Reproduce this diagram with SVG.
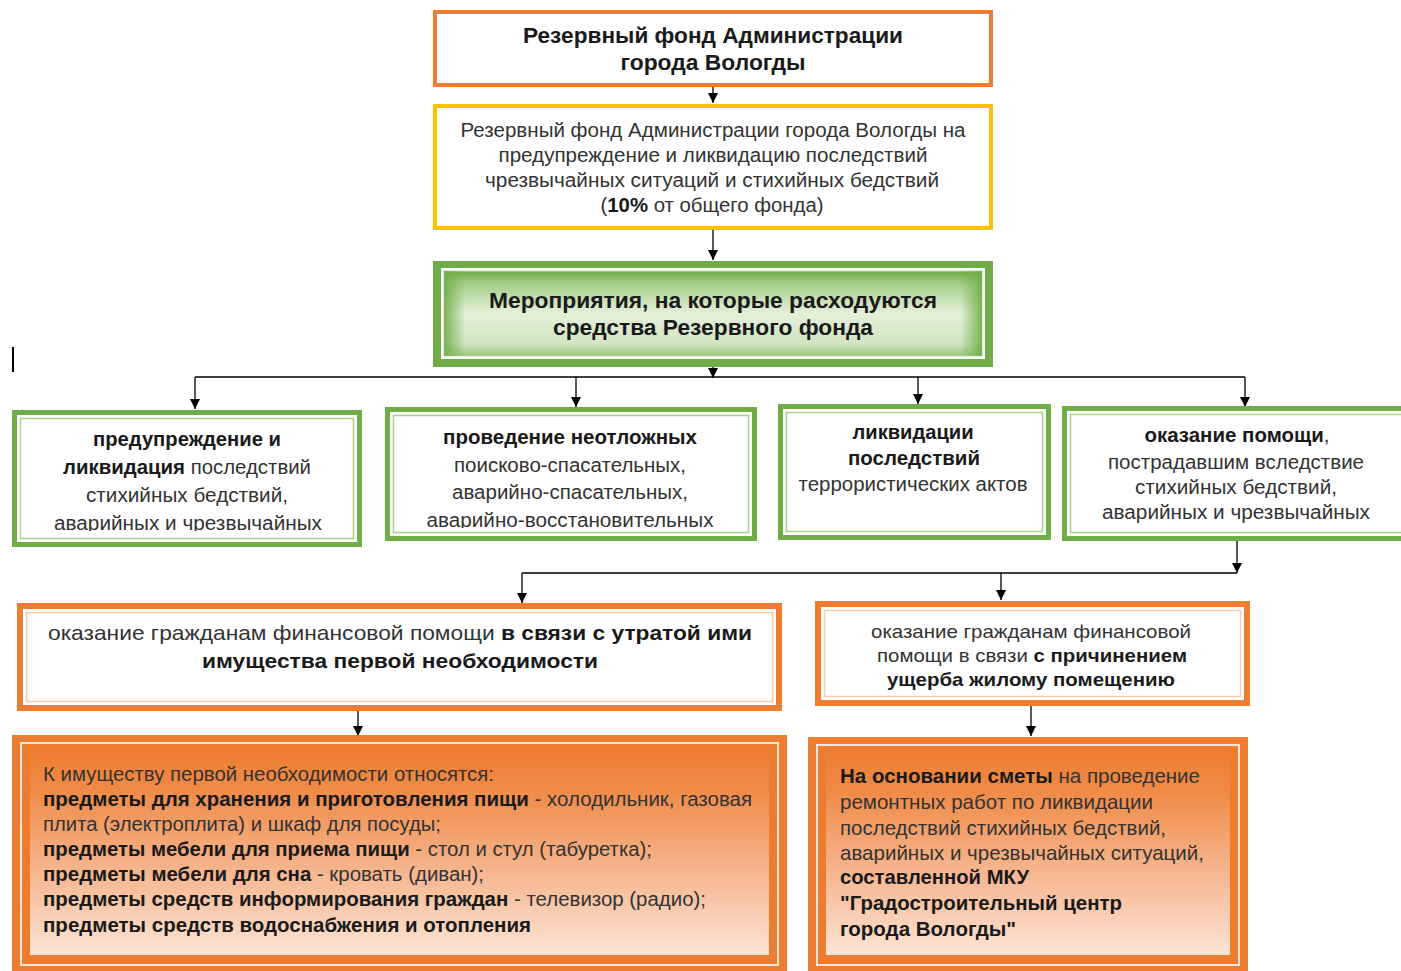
<svg xmlns="http://www.w3.org/2000/svg" width="1401" height="971" viewBox="0 0 1401 971">
<defs>
<style>
.t{font-family:"Liberation Sans",Arial,sans-serif;fill:#333}
.b{font-weight:bold;fill:#1a1a1a}
.c{text-anchor:middle}
.cn{stroke:#000;stroke-width:1.3;fill:none}
.gOut{fill:#fff;stroke:#70AD47;stroke-width:5}
.gIn{fill:none;stroke:#A9D18E;stroke-width:1.5}
.oOut{fill:#fff;stroke:#ED7D31;stroke-width:6}
.oIn{fill:none;stroke:#F8CBAD;stroke-width:1.5}
</style>
<marker id="ah" markerWidth="10" markerHeight="10" refX="10" refY="5" orient="auto" markerUnits="userSpaceOnUse">
<path d="M0,0 L10,5 L0,10 Z" fill="#000"/>
</marker>
<linearGradient id="gv" x1="0" y1="0" x2="0" y2="1">
<stop offset="0" stop-color="#6FAD47"/>
<stop offset="0.15" stop-color="#A6CE8B"/>
<stop offset="0.5" stop-color="#E4F0DA"/>
<stop offset="0.85" stop-color="#D0E5C2"/>
<stop offset="1" stop-color="#9CC77F"/>
</linearGradient>
<linearGradient id="gh" x1="0" y1="0" x2="1" y2="0">
<stop offset="0" stop-color="#70AD47" stop-opacity="0.9"/>
<stop offset="0.04" stop-color="#70AD47" stop-opacity="0"/>
<stop offset="0.96" stop-color="#70AD47" stop-opacity="0"/>
<stop offset="1" stop-color="#70AD47" stop-opacity="0.9"/>
</linearGradient>
<linearGradient id="go" x1="0" y1="0" x2="0" y2="1">
<stop offset="0" stop-color="#ED7D31"/>
<stop offset="0.2" stop-color="#F08B47"/>
<stop offset="0.6" stop-color="#F6B690"/>
<stop offset="1" stop-color="#FCE4D4"/>
</linearGradient>
<clipPath id="clip1"><rect x="20" y="418" width="334" height="113"/></clipPath>
<clipPath id="clip2"><rect x="393" y="415" width="356" height="113"/></clipPath>
</defs>
<rect width="1401" height="971" fill="#fff"/>

<line x1="13" y1="347" x2="13" y2="372" stroke="#000" stroke-width="2"/>

<g id="connectors">
<line class="cn" x1="713" y1="87" x2="713" y2="103" marker-end="url(#ah)"/>
<line class="cn" x1="713" y1="230" x2="713" y2="260" marker-end="url(#ah)"/>
<line class="cn" x1="713" y1="367" x2="713" y2="378" marker-end="url(#ah)"/>
<line class="cn" x1="195" y1="377" x2="1245" y2="377"/>
<line class="cn" x1="195" y1="377" x2="195" y2="409" marker-end="url(#ah)"/>
<line class="cn" x1="576" y1="377" x2="576" y2="407" marker-end="url(#ah)"/>
<line class="cn" x1="918" y1="377" x2="918" y2="404" marker-end="url(#ah)"/>
<line class="cn" x1="1245" y1="377" x2="1245" y2="407" marker-end="url(#ah)"/>
<line class="cn" x1="1237" y1="541" x2="1237" y2="573" marker-end="url(#ah)"/>
<line class="cn" x1="522" y1="573" x2="1237" y2="573"/>
<line class="cn" x1="522" y1="573" x2="522" y2="603" marker-end="url(#ah)"/>
<line class="cn" x1="1001" y1="573" x2="1001" y2="600" marker-end="url(#ah)"/>
<line class="cn" x1="358" y1="711" x2="358" y2="736" marker-end="url(#ah)"/>
<line class="cn" x1="1031" y1="706" x2="1031" y2="736" marker-end="url(#ah)"/>
</g>

<g id="n-fund">
<rect x="435" y="12" width="556" height="73" fill="#fff" stroke="#ED7D31" stroke-width="4"/>
<text class="t b c" x="713" y="43" font-size="22" textLength="380" lengthAdjust="spacingAndGlyphs">Резервный фонд Администрации</text>
<text class="t b c" x="713" y="70" font-size="22" textLength="185" lengthAdjust="spacingAndGlyphs">города Вологды</text>
</g>

<g id="n-emergency">
<rect x="435" y="106" width="556" height="122" fill="#fff" stroke="#FFC000" stroke-width="4"/>
<text class="t c" x="713" y="137" font-size="20" textLength="505" lengthAdjust="spacingAndGlyphs">Резервный фонд Администрации города Вологды на</text>
<text class="t c" x="713" y="162" font-size="20" textLength="429" lengthAdjust="spacingAndGlyphs">предупреждение и ликвидацию последствий</text>
<text class="t c" x="712" y="187" font-size="20" textLength="454" lengthAdjust="spacingAndGlyphs">чрезвычайных ситуаций и стихийных бедствий</text>
<text class="t c" x="712" y="212" font-size="20" textLength="223" lengthAdjust="spacingAndGlyphs">(<tspan class="b">10%</tspan> от общего фонда)</text>
</g>

<g id="n-measures">
<rect x="433" y="261" width="560" height="106" fill="#70AD47"/>
<rect x="441" y="268" width="544" height="91" fill="#fff"/>
<rect x="444" y="271" width="538" height="85" fill="url(#gv)" stroke="#C5E0B3" stroke-width="1"/>
<rect x="444" y="271" width="538" height="85" fill="url(#gh)"/>
<text class="t b c" x="713" y="308" font-size="22" textLength="448" lengthAdjust="spacingAndGlyphs">Мероприятия, на которые расходуются</text>
<text class="t b c" x="713" y="335" font-size="22" textLength="320" lengthAdjust="spacingAndGlyphs">средства Резервного фонда</text>
</g>

<g id="n-prevent">
<rect class="gOut" x="14.5" y="412.5" width="345" height="132"/>
<rect class="gIn" x="20.5" y="418.5" width="333" height="120"/>
<g clip-path="url(#clip1)">
<text class="t b c" x="187" y="446" font-size="20" textLength="188" lengthAdjust="spacingAndGlyphs">предупреждение и</text>
<text class="t c" x="187" y="474" font-size="20" textLength="248" lengthAdjust="spacingAndGlyphs"><tspan class="b">ликвидация</tspan> последствий</text>
<text class="t c" x="187" y="502" font-size="20" textLength="202" lengthAdjust="spacingAndGlyphs">стихийных бедствий,</text>
<text class="t c" x="188" y="530" font-size="20" textLength="268" lengthAdjust="spacingAndGlyphs">аварийных и чрезвычайных</text>
</g>
</g>

<g id="n-urgent">
<rect class="gOut" x="387.5" y="409.5" width="367" height="129"/>
<rect class="gIn" x="393.5" y="415.5" width="355" height="117"/>
<g clip-path="url(#clip2)">
<text class="t b c" x="570" y="444" font-size="20" textLength="254" lengthAdjust="spacingAndGlyphs">проведение неотложных</text>
<text class="t c" x="570" y="472" font-size="20" textLength="232" lengthAdjust="spacingAndGlyphs">поисково-спасательных,</text>
<text class="t c" x="570" y="499" font-size="20" textLength="236" lengthAdjust="spacingAndGlyphs">аварийно-спасательных,</text>
<text class="t c" x="570" y="527" font-size="20" textLength="287" lengthAdjust="spacingAndGlyphs">аварийно-восстановительных</text>
</g>
</g>

<g id="n-terror">
<rect class="gOut" x="780.5" y="406.5" width="268" height="131"/>
<rect class="gIn" x="786.5" y="412.5" width="256" height="119"/>
<text class="t b c" x="913" y="439" font-size="20" textLength="121" lengthAdjust="spacingAndGlyphs">ликвидации</text>
<text class="t b c" x="914" y="465" font-size="20" textLength="132" lengthAdjust="spacingAndGlyphs">последствий</text>
<text class="t c" x="913" y="491" font-size="20" textLength="229" lengthAdjust="spacingAndGlyphs">террористических актов</text>
</g>

<g id="n-help">
<rect class="gOut" x="1064.5" y="408.5" width="345" height="130"/>
<rect class="gIn" x="1070.5" y="414.5" width="340" height="118"/>
<text class="t c" x="1237" y="442" font-size="20" textLength="185" lengthAdjust="spacingAndGlyphs"><tspan class="b">оказание помощи</tspan>,</text>
<text class="t c" x="1236" y="469" font-size="20" textLength="256" lengthAdjust="spacingAndGlyphs">пострадавшим вследствие</text>
<text class="t c" x="1236" y="494" font-size="20" textLength="202" lengthAdjust="spacingAndGlyphs">стихийных бедствий,</text>
<text class="t c" x="1236" y="519" font-size="20" textLength="268" lengthAdjust="spacingAndGlyphs">аварийных и чрезвычайных</text>
</g>

<g id="n-property-loss">
<rect class="oOut" x="20" y="606" width="759" height="102"/>
<rect class="oIn" x="26.5" y="612.5" width="746" height="89"/>
<text class="t c" x="400" y="640" font-size="21" textLength="704" lengthAdjust="spacingAndGlyphs">оказание гражданам финансовой помощи <tspan class="b">в связи с утратой ими</tspan></text>
<text class="t b c" x="400" y="668" font-size="21" textLength="396" lengthAdjust="spacingAndGlyphs">имущества первой необходимости</text>
</g>

<g id="n-housing-damage">
<rect class="oOut" x="818" y="604" width="429" height="99"/>
<rect class="oIn" x="824.5" y="610.5" width="416" height="86"/>
<text class="t c" x="1031" y="638" font-size="19" textLength="320" lengthAdjust="spacingAndGlyphs">оказание гражданам финансовой</text>
<text class="t c" x="1032" y="662" font-size="19" textLength="310" lengthAdjust="spacingAndGlyphs">помощи в связи <tspan class="b">с причинением</tspan></text>
<text class="t b c" x="1031" y="686" font-size="19" textLength="288" lengthAdjust="spacingAndGlyphs">ущерба жилому помещению</text>
</g>

<g id="n-property-list">
<rect x="12" y="735" width="775" height="245" fill="#ED7D31"/>
<rect x="21" y="743" width="757" height="222" fill="none" stroke="#FCE4D6" stroke-width="2"/>
<rect x="22" y="744" width="755" height="220" fill="#EC7C30"/>
<rect x="30" y="749" width="739" height="206" fill="url(#go)"/>
<text class="t" x="43" y="781" font-size="20" textLength="451" lengthAdjust="spacingAndGlyphs">К имуществу первой необходимости относятся:</text>
<text class="t" x="43" y="806" font-size="20" textLength="709" lengthAdjust="spacingAndGlyphs"><tspan class="b">предметы для хранения и приготовления пищи</tspan> - холодильник, газовая</text>
<text class="t" x="43" y="831" font-size="20" textLength="398" lengthAdjust="spacingAndGlyphs">плита (электроплита) и шкаф для посуды;</text>
<text class="t" x="43" y="856" font-size="20" textLength="609" lengthAdjust="spacingAndGlyphs"><tspan class="b">предметы мебели для приема пищи</tspan> - стол  и стул  (табуретка);</text>
<text class="t" x="43" y="881" font-size="20" textLength="441" lengthAdjust="spacingAndGlyphs"><tspan class="b">предметы мебели для сна</tspan> - кровать (диван);</text>
<text class="t" x="43" y="906" font-size="20" textLength="663" lengthAdjust="spacingAndGlyphs"><tspan class="b">предметы средств информирования граждан</tspan> - телевизор (радио);</text>
<text class="t b" x="43" y="932" font-size="20" textLength="488" lengthAdjust="spacingAndGlyphs">предметы средств водоснабжения и отопления</text>
</g>

<g id="n-estimate">
<rect x="808" y="737" width="440" height="245" fill="#ED7D31"/>
<rect x="817" y="745" width="422" height="220" fill="none" stroke="#FCE4D6" stroke-width="2"/>
<rect x="818" y="746" width="420" height="218" fill="#EC7C30"/>
<rect x="826" y="751" width="404" height="204" fill="url(#go)"/>
<text class="t" x="840" y="783" font-size="21" textLength="360" lengthAdjust="spacingAndGlyphs"><tspan class="b">На основании сметы</tspan> на проведение</text>
<text class="t" x="840" y="809" font-size="21" textLength="313" lengthAdjust="spacingAndGlyphs">ремонтных работ по ликвидации</text>
<text class="t" x="840" y="835" font-size="21" textLength="326" lengthAdjust="spacingAndGlyphs">последствий стихийных бедствий,</text>
<text class="t" x="840" y="860" font-size="21" textLength="364" lengthAdjust="spacingAndGlyphs">аварийных и чрезвычайных ситуаций,</text>
<text class="t b" x="840" y="884" font-size="21" textLength="189" lengthAdjust="spacingAndGlyphs">составленной МКУ</text>
<text class="t b" x="840" y="910" font-size="21" textLength="282" lengthAdjust="spacingAndGlyphs">"Градостроительный центр</text>
<text class="t b" x="840" y="936" font-size="21" textLength="176" lengthAdjust="spacingAndGlyphs">города Вологды"</text>
</g>
</svg>
